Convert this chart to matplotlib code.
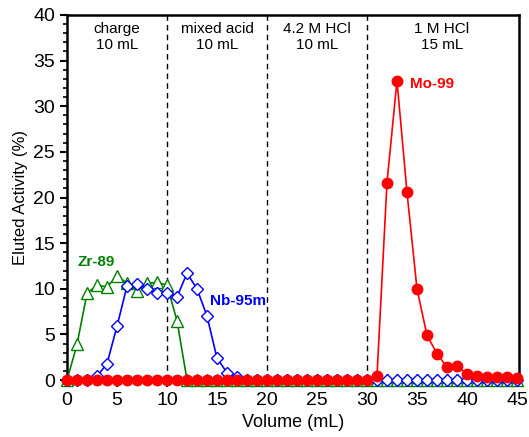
import numpy as np
import matplotlib
matplotlib.use('Agg')
import matplotlib.pyplot as plt
from matplotlib.ticker import MultipleLocator

plt.rcParams['font.family'] = ['Liberation Sans', 'DejaVu Sans']

volume = list(range(46))

zr89 = [0, 3.9, 9.5, 10.4, 10.2, 11.4, 10.6, 9.8, 10.6, 10.7, 10.4, 6.5] + [0] * 34
nb95m = [0, 0, 0, 0.4, 1.8, 5.9, 10.3, 10.5, 10.0, 9.5, 9.5, 9.1, 11.7, 10.0, 7.0,
         2.4, 0.8, 0.3] + [0] * 28
mo99 = [0] * 31 + [0.4, 21.6, 32.8, 20.6, 10.0, 4.9, 2.9, 1.4, 1.5, 0.7, 0.4, 0.35,
                   0.35, 0.35, 0.2]

boundaries = [10, 20, 30]
step_pos = [5, 15, 25, 37.5]
step_labels = ['charge\n10 mL', 'mixed acid\n10 mL', '4.2 M HCl\n10 mL', '1 M HCl\n15 mL']

fig = plt.figure(figsize=(5.29, 4.37), dpi=100)
ax = fig.add_axes([0.1267, 0.1304, 0.8543, 0.8353])

ax.plot(volume, zr89, color='green', marker='^', markersize=8, markerfacecolor='white',
        markeredgecolor='green', linewidth=1.2, zorder=3, clip_on=False)
ax.plot(volume, nb95m, color='blue', marker='D', markersize=6.5, markerfacecolor='white',
        markeredgecolor='blue', linewidth=1.2, zorder=4, clip_on=False)
ax.plot(volume, mo99, color='red', marker='o', markersize=7.5, linewidth=1.2, zorder=5,
        clip_on=False)

for b in boundaries:
    ax.axvline(b, color='black', linestyle=(0, (4, 3)), linewidth=1.0, zorder=1)

for p, s in zip(step_pos, step_labels):
    ax.text(p, 39.2, s, ha='center', va='top', fontsize=11, linespacing=1.15)

ax.text(1, 12.9, 'Zr-89', color='green', fontsize=11, fontweight='bold', ha='left', va='center')
ax.text(14.3, 8.7, 'Nb-95m', color='blue', fontsize=11, fontweight='bold', ha='left', va='center')
ax.text(34.3, 32.4, 'Mo-99', color='red', fontsize=11, fontweight='bold', ha='left', va='center')

ax.set_xlim(0, 45.2)
ax.set_ylim(0, 40)
ax.xaxis.set_major_locator(MultipleLocator(5))
ax.yaxis.set_major_locator(MultipleLocator(5))
ax.yaxis.set_minor_locator(MultipleLocator(1))
ax.tick_params(axis='both', which='major', labelsize=14, length=5, width=1.5, direction='out')
ax.tick_params(axis='y', which='minor', length=3, width=1.2, direction='out')
for sp in ax.spines.values():
    sp.set_linewidth(1.8)

ax.set_xlabel('Volume (mL)', fontsize=13)
ax.set_ylabel('Eluted Activity (%)', fontsize=12)

fig.savefig('out.png', dpi=100)
